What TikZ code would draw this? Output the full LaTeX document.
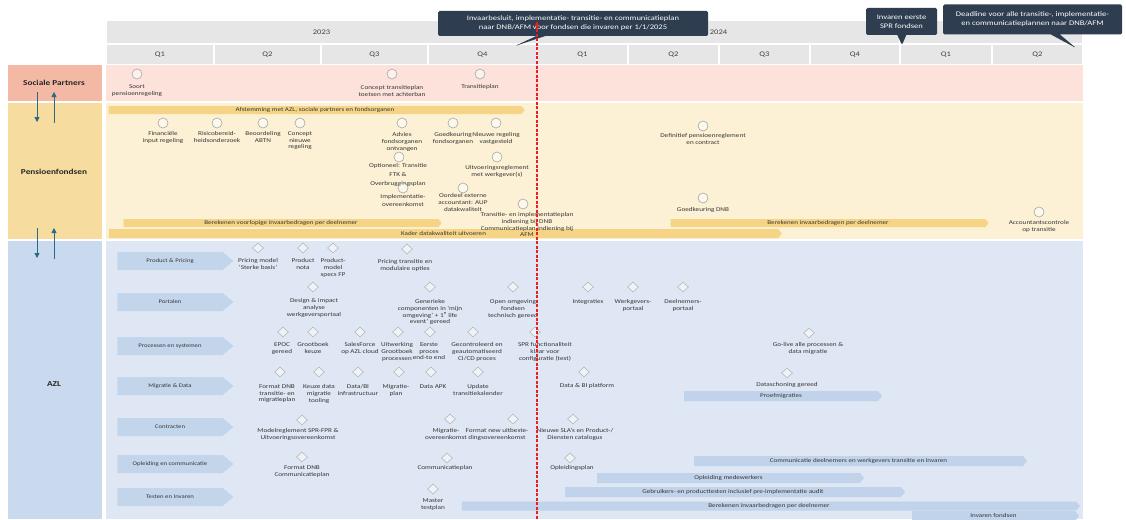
\documentclass[tikz,border=0pt]{standalone}
\usepackage{fontspec}
\setmainfont{Carlito}[FakeStretch=1.22]
\usetikzlibrary{shapes.geometric,shapes.symbols,shapes.callouts,arrows.meta}

\definecolor{hdr}{HTML}{E6E6E6}
\definecolor{hdrtxt}{HTML}{404040}
\definecolor{splbl}{HTML}{F4B9A4}
\definecolor{spbg}{HTML}{FCE2DA}
\definecolor{pflbl}{HTML}{F6DC9E}
\definecolor{pfbg}{HTML}{FCF1D5}
\definecolor{azllbl}{HTML}{C9D9EE}
\definecolor{azlbg}{HTML}{DEE7F3}
\definecolor{rowtag}{HTML}{C3D5EB}
\definecolor{blueband}{HTML}{C1D3EA}
\definecolor{goldband}{HTML}{F5D585}
\definecolor{callbg}{HTML}{2E3D4F}
\definecolor{tealarrow}{HTML}{2A6A86}
\definecolor{txt}{HTML}{363636}
\definecolor{mkr}{HTML}{A6A6A6}
\definecolor{markred}{RGB}{235,30,35}

\tikzset{
  lbl/.style={font=\fontsize{5.9}{6.6}\selectfont, text=txt, align=center, inner sep=0pt},
  mc/.style={circle, draw=mkr, fill=white, fill opacity=0.55, line width=0.6pt,
             minimum size=10pt, inner sep=0pt},
  md/.style={diamond, draw=mkr!80, fill=white, fill opacity=0.5, line width=0.6pt,
             minimum width=11pt, minimum height=10pt, inner sep=0pt},
  hcell/.style={fill=hdr, inner sep=0pt, text=hdrtxt, font=\fontsize{7}{8}\selectfont},
  lanelbl/.style={inner sep=0pt, text=black!85, font=\fontsize{7.6}{9}\selectfont\bfseries},
  rowtag/.style={signal, signal to=east, signal pointer angle=80, fill=rowtag,
                 minimum width=116pt, minimum height=18pt, inner sep=0pt,
                 font=\fontsize{5.5}{6}\selectfont, text=txt},
  gband/.style={signal, signal to=east, signal pointer angle=100, fill=goldband,
                minimum height=8pt, inner sep=0pt, font=\fontsize{5.8}{6}\selectfont, text=txt},
  bband/.style={signal, signal to=east, signal pointer angle=100, fill=blueband,
                minimum height=10pt, inner sep=0pt, font=\fontsize{5.8}{6}\selectfont, text=txt},
  callout/.style={rectangle callout, fill=callbg, text=white, rounded corners=1.5pt,
                  align=center, inner sep=1pt, font=\fontsize{7}{9}\selectfont,
                  callout pointer width=9pt},
  flow/.style={draw=tealarrow, line width=0.9pt, -{Triangle[width=5pt,length=5pt]}},
  datemark/.style={draw=markred, line width=1.3pt, dash pattern=on 3pt off 1.5pt},
  datetip/.style={fill=markred, draw=none}
}

\newcommand\mcirc[6]{%
  \node[mc] (#1) at (#2,#3) {};
  \node[lbl, anchor=north] (#1-t) at (#4,#5-3.4) {#6};}
\newcommand\mdiam[6]{%
  \node[md] (#1) at (#2,#3) {};
  \node[lbl, anchor=north] (#1-t) at (#4,#5-3.4) {#6};}

\begin{document}
\begin{tikzpicture}[x=1pt,y=-1pt]
\useasboundingbox[fill=white] (0,0) rectangle (1126,519);

% ---------- timeline header ----------
\node[hcell, minimum width=429pt, minimum height=22pt] (y2023) at (321.5,32) {2023};
\node[hcell, minimum width=361pt, minimum height=22pt] (y2024) at (718.5,32) {2024};
\node[hcell, minimum width=181pt, minimum height=22pt] (y2025) at (991.5,32) {2025};
\node[hcell, minimum width=106pt, minimum height=19pt] (q231) at (160,54.5) {Q1};
\node[hcell, minimum width=105pt, minimum height=19pt] (q232) at (267.5,54.5) {Q2};
\node[hcell, minimum width=105pt, minimum height=19pt] (q233) at (374.5,54.5) {Q3};
\node[hcell, minimum width=107pt, minimum height=19pt] (q234) at (482.5,54.5) {Q4};
\node[hcell, minimum width=89pt, minimum height=19pt] (q241) at (582.5,54.5) {Q1};
\node[hcell, minimum width=89pt, minimum height=19pt] (q242) at (673.5,54.5) {Q2};
\node[hcell, minimum width=89pt, minimum height=19pt] (q243) at (764.5,54.5) {Q3};
\node[hcell, minimum width=88pt, minimum height=19pt] (q244) at (855,54.5) {Q4};
\node[hcell, minimum width=90pt, minimum height=19pt] (q251) at (946,54.5) {Q1};
\node[hcell, minimum width=89pt, minimum height=19pt] (q252) at (1037.5,54.5) {Q2};

% ---------- swim lanes ----------
\fill[spbg] (106,65) rectangle (1083,101);
\fill[pfbg] (106,103) rectangle (1083,239);
\fill[azlbg] (106,241) rectangle (1083,519);
\fill[splbl] (8,65) rectangle (102,101);
\fill[pflbl] (8,103) rectangle (102,239);
\fill[azllbl] (8,241) rectangle (102,519);
\node[lanelbl] (lsp) at (54,83) {Sociale Partners};
\node[lanelbl] (lpf) at (54,172) {Pensioenfondsen};
\node[lanelbl] (lazl) at (54,384) {AZL};

% ---------- Sociale Partners ----------
\mcirc{sp1}{137}{74}{137}{88}{Soort\\pensioenregeling}
\mcirc{sp2}{392}{74}{392}{89}{Concept transitieplan\\toetsen met achterban}
\mcirc{sp3}{480}{74}{480}{88}{Transitieplan}

% ---------- Pensioenfondsen ----------
\node[gband, minimum width=416pt] (b1) at (315,110) {Afstemming met AZL, sociale partners en fondsorganen};
\node[gband, minimum width=318pt] (b2) at (281,223) {Berekenen voorlopige invaarbedragen per deelnemer};
\node[gband, minimum width=673pt, minimum height=9pt] (b3) at (443.5,233.5) {Kader datakwaliteit uitvoeren};
\node[gband, minimum width=318pt] (b4) at (828,223) {Berekenen invaarbedragen per deelnemer};

\mcirc{pf1}{163}{123}{163}{135}{Financiële\\input regeling}
\mcirc{pf2}{217}{123}{217}{135}{Risicobereid-\\heidsonderzoek}
\mcirc{pf3}{263}{123}{263}{135}{Beoordeling\\ABTN}
\mcirc{pf4}{300}{123}{300}{135}{Concept\\nieuwe\\regeling}
\mcirc{pf5}{402}{123}{402}{136}{Advies\\fondsorganen\\ontvangen}
\mcirc{pf6}{453}{123}{453}{136}{Goedkeuring\\fondsorganen}
\mcirc{pf7}{496}{123}{496}{136}{Nieuwe regeling\\vastgesteld}
\mcirc{pf8}{399}{157}{398}{167}{Optioneel: Transitie\\[2.4pt]FTK \&\\[2.4pt]Overbruggingsplan}
\mcirc{pf9}{497}{157}{497}{169}{Uitvoeringsreglement\\met werkgever(s)}
\mcirc{pf10}{403}{188}{403}{198}{Implementatie-\\[1pt]overeenkomst}
\mcirc{pf11}{463}{188}{463}{197}{Oordeel externe\\accountant: AUP\\datakwaliteit}
\mcirc{pf12}{523}{204}{527}{216}{Transitie- en implementatieplan\\indiening bij DNB\\Communicatieplan indiening bij\\AFM}
\mcirc{pf13}{703}{126}{703}{137}{Definitief pensioenreglement\\en contract}
\mcirc{pf14}{703}{198}{703}{211}{Goedkeuring DNB}
\mcirc{pf15}{1039}{212}{1039}{224}{Accountantscontrole\\op transitie}

% ---------- AZL work streams ----------
\node[rowtag] (r1) at (170,261) {Product \& Pricing};
\node[rowtag] (r2) at (170,302) {Portalen};
\node[rowtag] (r3) at (170,346) {Processen en systemen};
\node[rowtag] (r4) at (170,386) {Migratie \& Data};
\node[rowtag] (r5) at (170,427) {Contracten};
\node[rowtag] (r6) at (170,464) {Opleiding en communicatie};
\node[rowtag] (r7) at (170,497) {Testen en Invaren};

% Product & Pricing
\mdiam{pp1}{258}{248}{258}{262}{Pricing model\\‘Sterke basis’}
\mdiam{pp2}{303}{248}{303}{262}{Product\\nota}
\mdiam{pp3}{333}{248}{333}{262}{Product-\\model\\specs FP}
\mdiam{pp4}{407}{249}{405}{263}{Pricing transitie en\\modulaire opties}

% Portalen
\mdiam{po1}{313}{287}{314}{302}{Design \& impact\\analyse\\werkgeversportaal}
\mdiam{po2}{430}{287}{430}{303}{Generieke\\componenten in ‘mijn\\omgeving’ + 1\textsuperscript{e} life\\event’ gereed}
\mdiam{po3}{513}{287}{513}{303}{Open omgeving\\fondsen\\technisch gereed}
\mdiam{po4}{588}{287}{588}{303}{Integraties}
\mdiam{po5}{633}{287}{633}{303}{Werkgevers-\\portaal}
\mdiam{po6}{683}{287}{683}{303}{Deelnemers-\\portaal}

% Processen en systemen
\mdiam{ps1}{283}{332}{282}{346}{EPOC\\gereed}
\mdiam{ps2}{313}{332}{313}{346}{Grootboek\\keuze}
\mdiam{ps3}{360}{332}{360}{346}{SalesForce\\op AZL cloud}
\mdiam{ps4}{398}{332}{397}{346}{Uitwerking\\Grootboek\\processen}
\mdiam{ps5}{430}{332}{429}{346}{Eerste\\proces\\end-to end}
\mdiam{ps6}{473}{332}{477}{346}{Gecontroleerd en\\geautomatiseerd\\CI/CD proces}
\mdiam{ps7}{535}{332}{545}{346}{SPR functionaliteit\\klaar voor\\configuratie (test)}
\mdiam{ps8}{809}{333}{808}{346}{Go-live alle processen \&\\data migratie}

% Migratie & Data
\node[bband, minimum width=198pt] (b5) at (781,396) {Proefmigraties};
\mdiam{md1}{280}{372}{277}{388}{Format DNB\\transitie- en\\migratieplan}
\mdiam{md2}{319}{372}{319}{388}{Keuze data\\migratie\\tooling}
\mdiam{md3}{358}{372}{358}{388}{Data/BI\\infrastructuur}
\mdiam{md4}{399}{372}{396}{388}{Migratie-\\plan}
\mdiam{md5}{431}{372}{433}{388}{Data APK}
\mdiam{md6}{478}{372}{478}{388}{Update\\transitiekalender}
\mdiam{md7}{584}{372}{587}{387}{Data \& BI platform}
\mdiam{md8}{787}{373}{787}{386}{Dataschoning gereed}

% Contracten
\mdiam{ct1}{302}{420}{298}{432}{Modelreglement SPR-FPR \&\\Uitvoeringsovereenkomst}
\mdiam{ct2}{450}{419}{446}{432}{Migratie-\\overeenkomst}
\mdiam{ct3}{513}{419}{497}{432}{Format new uitbeste-\\dingsovereenkomst}
\mdiam{ct4}{573}{419}{575}{432}{Nieuwe SLA’s en Product-/\\Diensten catalogus}

% Opleiding en communicatie
\node[bband, minimum width=333pt] (b6) at (858.5,461) {Communicatie deelnemers en werkgevers transitie en invaren};
\node[bband, minimum width=267pt] (b7) at (728.5,478) {Opleiding medewerkers};
\mdiam{oc1}{302}{457}{302}{469}{Format DNB\\Communicatieplan}
\mdiam{oc2}{447}{458}{445}{469}{Communicatieplan}
\mdiam{oc3}{570}{458}{572}{469}{Opleidingsplan}

% Testen en Invaren
\node[bband, minimum width=340pt] (b8) at (733,492) {Gebruikers- en producttesten inclusief pre-implementatie audit};
\node[bband, minimum width=618pt, minimum height=9pt] (b9) at (769,506) {Berekenen invaarbedragen per deelnemer};
\node[bband, minimum width=167pt] (b10) at (993.5,516) {Invaren fondsen};
\mdiam{ti1}{433}{489}{433}{502}{Master\\testplan}

% ---------- hand-offs between the lanes ----------
\coordinate (h1a) at (37,92);  \coordinate (h1b) at (37,122);
\coordinate (h2a) at (54,123); \coordinate (h2b) at (54,92);
\coordinate (h3a) at (37,228); \coordinate (h3b) at (37,258);
\coordinate (h4a) at (54,259); \coordinate (h4b) at (54,228);
\draw[flow] (h1a) -- (h1b);
\draw[flow] (h2a) -- (h2b);
\draw[flow] (h3a) -- (h3b);
\draw[flow] (h4a) -- (h4b);

% ---------- deadlines ----------
\node[callout, callout absolute pointer={(515,46)}, minimum width=270pt, minimum height=25pt]
  (cb1) at (573,23.5) {Invaarbesluit, implementatie- transitie- en communicatieplan\\naar DNB/AFM voor fondsen die invaren per 1/1/2025};
\node[callout, callout absolute pointer={(902,45)}, minimum width=71pt, minimum height=27pt]
  (cb2) at (901.5,21.5) {Invaren eerste\\SPR fondsen};
\node[callout, callout absolute pointer={(1076,48)}, minimum width=179pt, minimum height=30pt]
  (cb3) at (1032.5,19.5) {Deadline voor alle transitie-, implementatie-\\en communicatieplannen naar DNB/AFM};

% today marker
\coordinate (rtop) at (537,21);
\coordinate (rmid) at (537,25);
\coordinate (rbot) at (537,519);
\draw[datemark] (rmid) -- (rbot);
\fill[datetip] (rtop) -- ++(2.2,4.5) -- ++(-4.4,0) -- cycle;
\end{tikzpicture}
\end{document}
